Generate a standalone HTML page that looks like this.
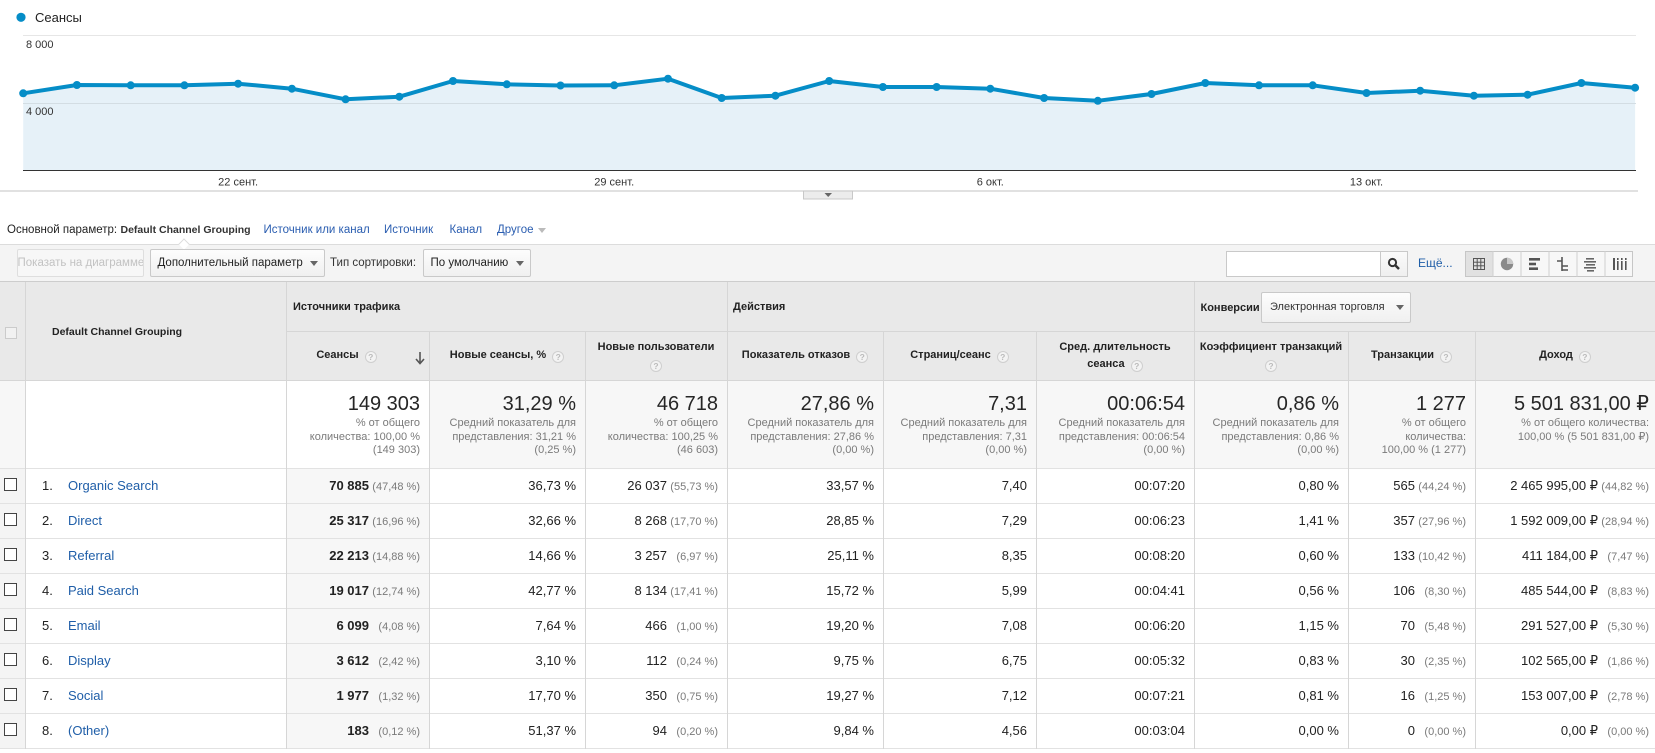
<!DOCTYPE html>
<html><head><meta charset="utf-8">
<style>
*{margin:0;padding:0;box-sizing:border-box}
html,body{width:1655px;height:753px;overflow:hidden;background:#fff}
body{position:relative;font-family:"Liberation Sans","DejaVu Sans",Arial,sans-serif;color:#222}
.a{position:absolute;white-space:nowrap}
.dim{top:222px;height:16px;line-height:16px;font-size:11.5px}
.lnk{color:#2a5db0}
.band{position:absolute;left:0;top:244px;width:1655px;height:38px;background:#f4f4f4;border-top:1px solid #dcdcdc}
.btn{position:absolute;top:249px;height:28px;border:1px solid #c9c9c9;border-radius:2px;background:linear-gradient(#fdfdfd,#f0f0f0);font-size:11.5px;line-height:26px;white-space:nowrap;overflow:hidden;color:#222}
.tri{position:absolute;width:0;height:0;border-left:4px solid transparent;border-right:4px solid transparent;border-top:5px solid #666}
.hl{position:absolute;height:1px}
.vl{position:absolute;width:1px}
.h2{position:absolute;top:331px;height:50px;display:flex;align-items:center;justify-content:center;text-align:center;font-weight:bold;font-size:11px;line-height:17.5px;color:#222}
.h2 > div{white-space:nowrap}
.q{display:inline-block;width:12px;height:12px;border-radius:50%;background:#f3f3f3;border:1px solid #cfcfcf;color:#bbb;font-size:8.5px;line-height:10px;text-align:center;font-weight:bold;margin-left:6px;vertical-align:-2px}
.sm{position:absolute;top:381px;height:87px;text-align:right;padding-right:9px;padding-top:11px;white-space:nowrap}
.big{font-size:20px;line-height:24px;color:#262626}
.sub{font-size:11px;line-height:13.7px;color:#7a7a7a;margin-top:1px}
.row{position:absolute;left:0;width:1655px;height:35px}
.row .a{top:0;height:35px;line-height:35px}
.cb{position:absolute;left:4px;top:10px;width:13px;height:13px;border:1px solid #444;background:#fff}
.idx{left:42px;font-size:13px;color:#222}
.nm{left:68px;font-size:13px;color:#1f5ea8}
.v{text-align:right;padding-right:9px;font-size:13px;color:#222}
.v b{font-weight:bold}
.p{display:inline-block;width:48px;text-align:right;margin-left:3px;font-size:11px;color:#7a7a7a}
.c2{left:286px;width:143px}.c3{left:429px;width:156px}.c4{left:585px;width:142px}
.c5{left:727px;width:156px}.c6{left:883px;width:153px}.c7{left:1036px;width:158px}
.c8{left:1194px;width:154px}.c9{left:1348px;width:127px}.c10{left:1475px;width:180px;padding-right:6px}
</style></head><body>

<!-- CHART -->
<svg class="a" style="left:0;top:0" width="1655" height="200" xmlns="http://www.w3.org/2000/svg">
<circle cx="21" cy="17.3" r="4.6" fill="#058dc7"/>
<text x="35" y="22" font-family="Liberation Sans, Arial, sans-serif" font-size="13" fill="#222">Сеансы</text>
<line x1="23" y1="35.5" x2="1636" y2="35.5" stroke="#e6e6e6" stroke-width="1"/>
<polygon fill="#e6f1f8" points="23.2,93.3 76.9,85 130.7,85.3 184.4,85.3 238.1,83.7 291.9,88.7 345.6,99.3 399.3,96.7 453,81 506.8,84.3 560.5,85.5 614.2,85.3 668,78.7 721.7,98 775.4,95.7 829.2,81 882.9,87 936.6,87 990.3,88.7 1044.1,98 1097.8,100.8 1151.5,94 1205.3,83 1259,85.3 1312.7,85.3 1366.5,93 1420.2,90.7 1473.9,95.7 1527.6,94.7 1581.4,83 1635.1,87.7 1635.1,170 23.2,170"/>
<line x1="23" y1="103.5" x2="1636" y2="103.5" stroke="#d3dde3" stroke-width="1"/>
<line x1="23" y1="170.5" x2="1636" y2="170.5" stroke="#333" stroke-width="1"/>
<text x="26" y="48" font-family="Liberation Sans, Arial, sans-serif" font-size="11" fill="#333">8 000</text>
<text x="26" y="115" font-family="Liberation Sans, Arial, sans-serif" font-size="11" fill="#333">4 000</text>
<polyline fill="none" stroke="#058dc7" stroke-width="4" stroke-linejoin="round" points="23.2,93.3 76.9,85 130.7,85.3 184.4,85.3 238.1,83.7 291.9,88.7 345.6,99.3 399.3,96.7 453,81 506.8,84.3 560.5,85.5 614.2,85.3 668,78.7 721.7,98 775.4,95.7 829.2,81 882.9,87 936.6,87 990.3,88.7 1044.1,98 1097.8,100.8 1151.5,94 1205.3,83 1259,85.3 1312.7,85.3 1366.5,93 1420.2,90.7 1473.9,95.7 1527.6,94.7 1581.4,83 1635.1,87.7"/>
<g fill="#058dc7">
<circle cx="23.2" cy="93.3" r="4"/><circle cx="76.9" cy="85" r="4"/><circle cx="130.7" cy="85.3" r="4"/><circle cx="184.4" cy="85.3" r="4"/><circle cx="238.1" cy="83.7" r="4"/><circle cx="291.9" cy="88.7" r="4"/><circle cx="345.6" cy="99.3" r="4"/><circle cx="399.3" cy="96.7" r="4"/><circle cx="453" cy="81" r="4"/><circle cx="506.8" cy="84.3" r="4"/><circle cx="560.5" cy="85.5" r="4"/><circle cx="614.2" cy="85.3" r="4"/><circle cx="668" cy="78.7" r="4"/><circle cx="721.7" cy="98" r="4"/><circle cx="775.4" cy="95.7" r="4"/><circle cx="829.2" cy="81" r="4"/><circle cx="882.9" cy="87" r="4"/><circle cx="936.6" cy="87" r="4"/><circle cx="990.3" cy="88.7" r="4"/><circle cx="1044.1" cy="98" r="4"/><circle cx="1097.8" cy="100.8" r="4"/><circle cx="1151.5" cy="94" r="4"/><circle cx="1205.3" cy="83" r="4"/><circle cx="1259" cy="85.3" r="4"/><circle cx="1312.7" cy="85.3" r="4"/><circle cx="1366.5" cy="93" r="4"/><circle cx="1420.2" cy="90.7" r="4"/><circle cx="1473.9" cy="95.7" r="4"/><circle cx="1527.6" cy="94.7" r="4"/><circle cx="1581.4" cy="83" r="4"/><circle cx="1635.1" cy="87.7" r="4"/>
</g>
<g font-family="Liberation Sans, Arial, sans-serif" font-size="11" fill="#333" text-anchor="middle">
<text x="238.1" y="185.5">22 сент.</text>
<text x="614.2" y="185.5">29 сент.</text>
<text x="990.3" y="185.5">6 окт.</text>
<text x="1366.5" y="185.5">13 окт.</text>
</g>
<line x1="0" y1="191" x2="1638" y2="191" stroke="#cfcfcf" stroke-width="1.2"/>
<rect x="803.5" y="191" width="49" height="8" fill="#ececec" stroke="#c8c8c8" stroke-width="1"/>
<polygon points="824.5,193 832,193 828.2,197" fill="#666"/>
</svg>

<!-- DIMENSION ROW -->
<div class="a dim" style="left:7px">Основной параметр:</div>
<div class="a dim" style="left:120.5px;font-weight:bold;font-size:10.5px;color:#333">Default Channel Grouping</div>
<div class="a dim lnk" style="left:263.5px">Источник или канал</div>
<div class="a dim lnk" style="left:384px">Источник</div>
<div class="a dim lnk" style="left:449.5px">Канал</div>
<div class="a dim lnk" style="left:497px">Другое</div>
<div class="tri" style="left:537.5px;top:228px;border-top-color:#bbb"></div>

<!-- TOOLBAR -->
<div class="band"></div>
<div class="a" style="left:180px;top:240px;width:8px;height:8px;transform:rotate(45deg);background:#fff;border-left:1px solid #dcdcdc;border-top:1px solid #dcdcdc"></div>
<div class="btn" style="left:16.5px;width:127px;color:#c2c2c2;border-color:#dedede;background:#f7f7f7;padding-left:0">Показать на диаграмме</div>
<div class="btn" style="left:149.5px;width:175px;padding-left:7px">Дополнительный параметр</div>
<div class="tri" style="left:310px;top:261px"></div>
<div class="a" style="left:330px;top:256px;font-size:11.5px;line-height:14px;color:#333">Тип сортировки:</div>
<div class="btn" style="left:422.5px;width:108px;padding-left:7px">По умолчанию</div>
<div class="tri" style="left:516px;top:261px"></div>

<!-- search -->
<div class="a" style="left:1226px;top:251px;width:155px;height:26px;background:#fff;border:1px solid #c9c9c9"></div>
<div class="a" style="left:1380px;top:251px;width:28px;height:26px;background:linear-gradient(#fafafa,#efefef);border:1px solid #c9c9c9"></div>
<svg class="a" style="left:1380px;top:251px" width="28" height="26"><circle cx="12.5" cy="11.5" r="3.6" fill="none" stroke="#333" stroke-width="2"/><line x1="15" y1="14" x2="19" y2="18" stroke="#333" stroke-width="2.4"/></svg>
<div class="a lnk" style="left:1418px;top:256px;font-size:12px;line-height:14px;color:#1f5ea8">Ещё...</div>
<svg class="a" style="left:1465px;top:251px" width="168" height="26">
<rect x="0.5" y="0.5" width="167" height="25" fill="#f7f7f7" stroke="#c6c6c6"/>
<rect x="0.5" y="0.5" width="27.5" height="25" fill="#e1e1e1" stroke="#c6c6c6"/>
<g stroke="#cfcfcf"><line x1="28" y1="0" x2="28" y2="26"/><line x1="56" y1="0" x2="56" y2="26"/><line x1="84" y1="0" x2="84" y2="26"/><line x1="112" y1="0" x2="112" y2="26"/><line x1="140" y1="0" x2="140" y2="26"/></g>
<g stroke="#555" fill="none" stroke-width="1"><rect x="8.5" y="7.5" width="11" height="11"/><line x1="12.2" y1="7.5" x2="12.2" y2="18.5"/><line x1="15.8" y1="7.5" x2="15.8" y2="18.5"/><line x1="8.5" y1="11.2" x2="19.5" y2="11.2"/><line x1="8.5" y1="14.8" x2="19.5" y2="14.8"/></g>
<circle cx="42" cy="13" r="6.2" fill="#8a8a8a"/><path d="M42,13 L42,6.8 A6.2,6.2 0 0 1 48.2,13 Z" fill="#c8c8c8"/>
<g fill="#555"><rect x="64" y="7" width="11" height="2.6"/><rect x="64" y="11.7" width="7" height="2.6"/><rect x="64" y="16.4" width="9" height="2.6"/></g>
<g stroke="#555" stroke-width="1.6" fill="none"><path d="M97,6 V20 M92,10 H97 M97,15 H103 M97,19 H103"/></g>
<g fill="#666"><rect x="121" y="7" width="8" height="1.6"/><rect x="119" y="10" width="12" height="1.6"/><rect x="121" y="13" width="9" height="1.6"/><rect x="119" y="16" width="12" height="1.6"/><rect x="122" y="19" width="7" height="1.6"/></g>
<g fill="#555"><rect x="148" y="7" width="2" height="12"/><rect x="152" y="7" width="1.6" height="2"/><rect x="152" y="10" width="1.6" height="9"/><rect x="156" y="7" width="1.6" height="2"/><rect x="156" y="10" width="1.6" height="9"/><rect x="160" y="7" width="1.6" height="2"/><rect x="160" y="10" width="1.6" height="9"/></g>
</svg>

<!-- TABLE BACKGROUNDS -->
<div class="a" style="left:0;top:282px;width:1655px;height:99px;background:#e9e9e9"></div>
<div class="a" style="left:0;top:381px;width:1655px;height:87px;background:#f7f7f7"></div>
<div class="a" style="left:25px;top:381px;width:261px;height:87px;background:#fff"></div>
<div class="a" style="left:286px;top:381px;width:143px;height:87px;background:#fff"></div>
<div class="a" style="left:0;top:468px;width:25px;height:281px;background:#f4f4f4"></div>
<div class="a" style="left:286px;top:468px;width:143px;height:281px;background:#f7f7f7"></div>

<!-- LINES -->
<div class="hl" style="left:0;top:281px;width:1655px;background:#cdcdcd"></div>
<div class="hl" style="left:286px;top:331px;width:1369px;background:#d6d6d6"></div>
<div class="hl" style="left:0;top:380px;width:1655px;background:#d6d6d6"></div>
<div class="hl" style="left:0;top:468px;width:1655px;background:#e2e2e2"></div>
<div class="hl" style="left:0;top:503px;width:1655px;background:#e2e2e2"></div>
<div class="hl" style="left:0;top:538px;width:1655px;background:#e2e2e2"></div>
<div class="hl" style="left:0;top:573px;width:1655px;background:#e2e2e2"></div>
<div class="hl" style="left:0;top:608px;width:1655px;background:#e2e2e2"></div>
<div class="hl" style="left:0;top:643px;width:1655px;background:#e2e2e2"></div>
<div class="hl" style="left:0;top:678px;width:1655px;background:#e2e2e2"></div>
<div class="hl" style="left:0;top:713px;width:1655px;background:#e2e2e2"></div>
<div class="hl" style="left:0;top:748px;width:1655px;background:#e2e2e2"></div>
<div class="vl" style="left:25px;top:282px;height:467px;background:#d6d6d6"></div>
<div class="vl" style="left:286px;top:282px;height:467px;background:#d6d6d6"></div>
<div class="vl" style="left:727px;top:282px;height:467px;background:#d6d6d6"></div>
<div class="vl" style="left:1194px;top:282px;height:467px;background:#d6d6d6"></div>
<div class="vl" style="left:429px;top:331px;height:418px;background:#d6d6d6"></div>
<div class="vl" style="left:585px;top:331px;height:418px;background:#d6d6d6"></div>
<div class="vl" style="left:883px;top:331px;height:418px;background:#d6d6d6"></div>
<div class="vl" style="left:1036px;top:331px;height:418px;background:#d6d6d6"></div>
<div class="vl" style="left:1348px;top:331px;height:418px;background:#d6d6d6"></div>
<div class="vl" style="left:1475px;top:331px;height:418px;background:#d6d6d6"></div>

<!-- HEADER -->
<div class="a" style="left:5px;top:327px;width:12px;height:12px;border:1px solid #cbcbcb;background:#f1f1f1"></div>
<div class="a" style="left:52px;top:324px;font-size:10.5px;line-height:16px;font-weight:bold;color:#222">Default Channel Grouping</div>
<div class="a" style="left:293px;top:299px;font-size:11px;line-height:16px;font-weight:bold;color:#222">Источники трафика</div>
<div class="a" style="left:733px;top:299px;font-size:11px;line-height:16px;font-weight:bold;color:#222">Действия</div>
<div class="a" style="left:1200.5px;top:300px;font-size:11px;line-height:16px;font-weight:bold;color:#222">Конверсии</div>
<div class="a" style="left:1261px;top:292px;width:150px;height:31px;border:1px solid #c9c9c9;border-radius:2px;background:linear-gradient(#fdfdfd,#f0f0f0);font-size:11px;line-height:29px;padding-left:8px;color:#333">Электронная торговля</div>
<div class="tri" style="left:1396px;top:305px"></div>

<div class="h2" style="left:286px;width:143px;padding-right:22px"><div>Сеансы<span class="q">?</span></div></div>
<svg class="a" style="left:414px;top:351px" width="12" height="14"><line x1="6" y1="1" x2="6" y2="12" stroke="#555" stroke-width="1.6"/><polyline points="2,8 6,12.5 10,8" fill="none" stroke="#555" stroke-width="1.6"/></svg>
<div class="h2" style="left:429px;width:156px"><div>Новые сеансы, %<span class="q">?</span></div></div>
<div class="h2" style="left:585px;width:142px"><div>Новые пользователи<br><span class="q" style="margin-left:0">?</span></div></div>
<div class="h2" style="left:727px;width:156px"><div>Показатель отказов<span class="q">?</span></div></div>
<div class="h2" style="left:883px;width:153px"><div>Страниц/сеанс<span class="q">?</span></div></div>
<div class="h2" style="left:1036px;width:158px"><div>Сред. длительность<br>сеанса<span class="q">?</span></div></div>
<div class="h2" style="left:1194px;width:154px"><div>Коэффициент транзакций<br><span class="q" style="margin-left:0">?</span></div></div>
<div class="h2" style="left:1348px;width:127px"><div>Транзакции<span class="q">?</span></div></div>
<div class="h2" style="left:1475px;width:180px"><div>Доход<span class="q">?</span></div></div>

<!-- SUMMARY -->
<div class="sm c2"><div class="big">149 303</div><div class="sub">% от общего<br>количества: 100,00 %<br>(149 303)</div></div>
<div class="sm c3"><div class="big">31,29 %</div><div class="sub">Средний показатель для<br>представления: 31,21 %<br>(0,25 %)</div></div>
<div class="sm c4"><div class="big">46 718</div><div class="sub">% от общего<br>количества: 100,25 %<br>(46 603)</div></div>
<div class="sm c5"><div class="big">27,86 %</div><div class="sub">Средний показатель для<br>представления: 27,86 %<br>(0,00 %)</div></div>
<div class="sm c6"><div class="big">7,31</div><div class="sub">Средний показатель для<br>представления: 7,31<br>(0,00 %)</div></div>
<div class="sm c7"><div class="big">00:06:54</div><div class="sub">Средний показатель для<br>представления: 00:06:54<br>(0,00 %)</div></div>
<div class="sm c8"><div class="big">0,86 %</div><div class="sub">Средний показатель для<br>представления: 0,86 %<br>(0,00 %)</div></div>
<div class="sm c9"><div class="big">1 277</div><div class="sub">% от общего<br>количества:<br>100,00 % (1 277)</div></div>
<div class="sm c10"><div class="big">5 501 831,00 ₽</div><div class="sub">% от общего количества:<br>100,00 % (5 501 831,00 ₽)</div></div>

<!-- ROWS -->
<div class="row" style="top:468px"><div class="cb"></div><div class="a idx">1.</div><div class="a nm">Organic Search</div>
<div class="a v c2"><b>70 885</b><span class="p">(47,48 %)</span></div><div class="a v c3">36,73 %</div><div class="a v c4">26 037<span class="p">(55,73 %)</span></div><div class="a v c5">33,57 %</div><div class="a v c6">7,40</div><div class="a v c7">00:07:20</div><div class="a v c8">0,80 %</div><div class="a v c9">565<span class="p">(44,24 %)</span></div><div class="a v c10">2 465 995,00 ₽<span class="p">(44,82 %)</span></div></div>

<div class="row" style="top:503px"><div class="cb"></div><div class="a idx">2.</div><div class="a nm">Direct</div>
<div class="a v c2"><b>25 317</b><span class="p">(16,96 %)</span></div><div class="a v c3">32,66 %</div><div class="a v c4">8 268<span class="p">(17,70 %)</span></div><div class="a v c5">28,85 %</div><div class="a v c6">7,29</div><div class="a v c7">00:06:23</div><div class="a v c8">1,41 %</div><div class="a v c9">357<span class="p">(27,96 %)</span></div><div class="a v c10">1 592 009,00 ₽<span class="p">(28,94 %)</span></div></div>

<div class="row" style="top:538px"><div class="cb"></div><div class="a idx">3.</div><div class="a nm">Referral</div>
<div class="a v c2"><b>22 213</b><span class="p">(14,88 %)</span></div><div class="a v c3">14,66 %</div><div class="a v c4">3 257<span class="p">(6,97 %)</span></div><div class="a v c5">25,11 %</div><div class="a v c6">8,35</div><div class="a v c7">00:08:20</div><div class="a v c8">0,60 %</div><div class="a v c9">133<span class="p">(10,42 %)</span></div><div class="a v c10">411 184,00 ₽<span class="p">(7,47 %)</span></div></div>

<div class="row" style="top:573px"><div class="cb"></div><div class="a idx">4.</div><div class="a nm">Paid Search</div>
<div class="a v c2"><b>19 017</b><span class="p">(12,74 %)</span></div><div class="a v c3">42,77 %</div><div class="a v c4">8 134<span class="p">(17,41 %)</span></div><div class="a v c5">15,72 %</div><div class="a v c6">5,99</div><div class="a v c7">00:04:41</div><div class="a v c8">0,56 %</div><div class="a v c9">106<span class="p">(8,30 %)</span></div><div class="a v c10">485 544,00 ₽<span class="p">(8,83 %)</span></div></div>

<div class="row" style="top:608px"><div class="cb"></div><div class="a idx">5.</div><div class="a nm">Email</div>
<div class="a v c2"><b>6 099</b><span class="p">(4,08 %)</span></div><div class="a v c3">7,64 %</div><div class="a v c4">466<span class="p">(1,00 %)</span></div><div class="a v c5">19,20 %</div><div class="a v c6">7,08</div><div class="a v c7">00:06:20</div><div class="a v c8">1,15 %</div><div class="a v c9">70<span class="p">(5,48 %)</span></div><div class="a v c10">291 527,00 ₽<span class="p">(5,30 %)</span></div></div>

<div class="row" style="top:643px"><div class="cb"></div><div class="a idx">6.</div><div class="a nm">Display</div>
<div class="a v c2"><b>3 612</b><span class="p">(2,42 %)</span></div><div class="a v c3">3,10 %</div><div class="a v c4">112<span class="p">(0,24 %)</span></div><div class="a v c5">9,75 %</div><div class="a v c6">6,75</div><div class="a v c7">00:05:32</div><div class="a v c8">0,83 %</div><div class="a v c9">30<span class="p">(2,35 %)</span></div><div class="a v c10">102 565,00 ₽<span class="p">(1,86 %)</span></div></div>

<div class="row" style="top:678px"><div class="cb"></div><div class="a idx">7.</div><div class="a nm">Social</div>
<div class="a v c2"><b>1 977</b><span class="p">(1,32 %)</span></div><div class="a v c3">17,70 %</div><div class="a v c4">350<span class="p">(0,75 %)</span></div><div class="a v c5">19,27 %</div><div class="a v c6">7,12</div><div class="a v c7">00:07:21</div><div class="a v c8">0,81 %</div><div class="a v c9">16<span class="p">(1,25 %)</span></div><div class="a v c10">153 007,00 ₽<span class="p">(2,78 %)</span></div></div>

<div class="row" style="top:713px"><div class="cb"></div><div class="a idx">8.</div><div class="a nm">(Other)</div>
<div class="a v c2"><b>183</b><span class="p">(0,12 %)</span></div><div class="a v c3">51,37 %</div><div class="a v c4">94<span class="p">(0,20 %)</span></div><div class="a v c5">9,84 %</div><div class="a v c6">4,56</div><div class="a v c7">00:03:04</div><div class="a v c8">0,00 %</div><div class="a v c9">0<span class="p">(0,00 %)</span></div><div class="a v c10">0,00 ₽<span class="p">(0,00 %)</span></div></div>

</body></html>
